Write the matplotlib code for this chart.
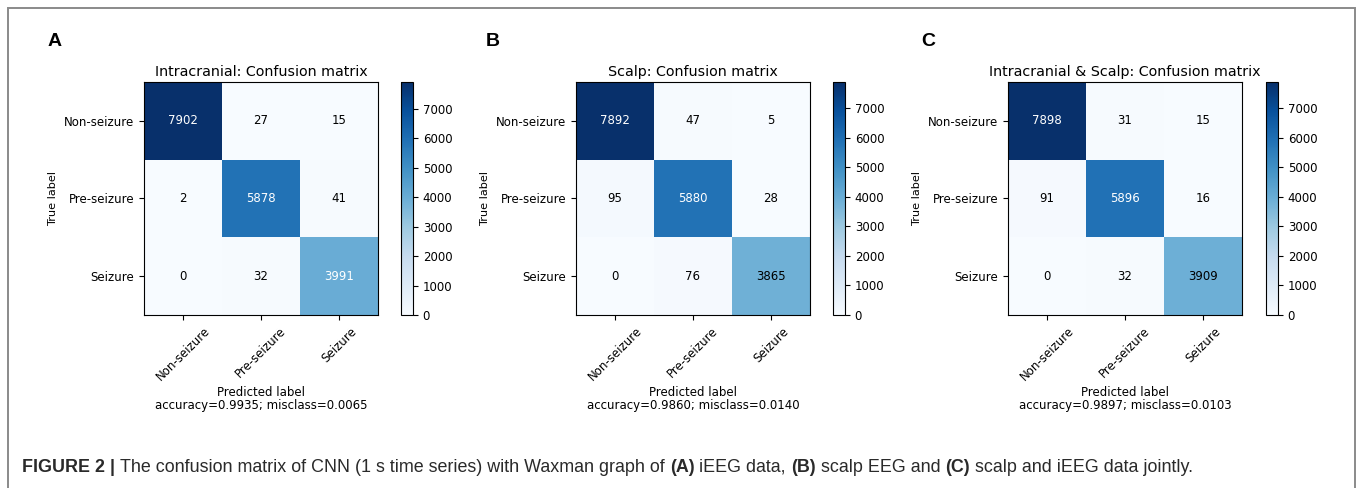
import numpy as np
import matplotlib
matplotlib.use("Agg")
import matplotlib.pyplot as plt
from matplotlib.patches import Rectangle

# --- data ---
classes = ["Non-seizure", "Pre-seizure", "Seizure"]
titles = ["Intracranial: Confusion matrix",
          "Scalp: Confusion matrix",
          "Intracranial & Scalp: Confusion matrix"]
panel_letters = ["A", "B", "C"]
cm_intracranial = [[7902, 27, 15],
                   [2, 5878, 41],
                   [0, 32, 3991]]
cm_scalp = [[7892, 47, 5],
            [95, 5880, 28],
            [0, 76, 3865]]
cm_joint = [[7898, 31, 15],
            [91, 5896, 16],
            [0, 32, 3909]]
matrices = [cm_intracranial, cm_scalp, cm_joint]
cbar_ticks = [0, 1000, 2000, 3000, 4000, 5000, 6000, 7000]

caption_parts = [("FIGURE 2 | ", "bold"),
                 ("The confusion matrix of CNN (1 s time series) with Waxman graph of ", "normal"),
                 ("(A)", "bold"), (" iEEG data, ", "normal"),
                 ("(B)", "bold"), (" scalp EEG and ", "normal"),
                 ("(C)", "bold"), (" scalp and iEEG data jointly.", "normal")]

W, H = 1358, 488
fig = plt.figure(figsize=(W / 100, H / 100), dpi=100)


def px_rect(x0, y0, x1, y1):
    # pixel box (top-left origin) -> figure fraction rect
    return [x0 / W, 1 - y1 / H, (x1 - x0) / W, (y1 - y0) / H]


ax_x = [144, 576, 1008]
cb_x = [401, 833, 1266]
letter_x = [48, 486, 921]
y_top, y_bot = 82, 315

# outer frame
fig.patches.append(Rectangle((8 / W, -0.05), (1355 - 8) / W, 1 - 8 / H + 0.05,
                             transform=fig.transFigure, fill=False,
                             edgecolor="#8a8a8a", linewidth=1.4))

fs = 8.5
for k in range(3):
    cm = np.array(matrices[k])
    ax = fig.add_axes(px_rect(ax_x[k], y_top, ax_x[k] + 234, y_bot))
    cax = fig.add_axes(px_rect(cb_x[k], y_top, cb_x[k] + 12, y_bot))
    im = ax.imshow(cm, interpolation="nearest", cmap=plt.cm.Blues, vmin=0, vmax=cm.max(),
                   aspect="auto")
    ax.set_title(titles[k], fontsize=10.3, pad=4)
    cb = fig.colorbar(im, cax=cax, ticks=cbar_ticks)
    cb.ax.tick_params(labelsize=fs, length=3.5, width=0.8)
    cb.outline.set_linewidth(0.8)

    ticks = np.arange(len(classes))
    ax.set_xticks(ticks)
    ax.set_xticklabels(classes, rotation=45, fontsize=fs)
    ax.set_yticks(ticks)
    ax.set_yticklabels(classes, fontsize=fs)
    ax.tick_params(length=3.5, width=0.8)
    for s in ax.spines.values():
        s.set_linewidth(0.8)

    thresh = cm.max() / 2
    for i in range(cm.shape[0]):
        for j in range(cm.shape[1]):
            ax.text(j, i, str(cm[i, j]), ha="center", va="center",
                    fontsize=fs, color="white" if cm[i, j] > thresh else "black")

    accuracy = np.trace(cm) / float(np.sum(cm))
    misclass = 1 - accuracy
    ax.set_ylabel("True label", fontsize=8.1)
    ax.set_xlabel("Predicted label\naccuracy={:0.4f}; misclass={:0.4f}".format(accuracy, misclass),
                  fontsize=fs, linespacing=1.0, labelpad=2)

    fig.text(letter_x[k] / W, 1 - 42 / H, panel_letters[k], fontsize=14, fontweight="bold",
             family="Liberation Sans", ha="left", va="center")

# caption, drawn piece by piece so the bold parts line up
fig.canvas.draw()
renderer = fig.canvas.get_renderer()
x = 22
for txt, weight in caption_parts:
    t = fig.text(x / W, 1 - 467 / H, txt, fontsize=12.9, fontweight=weight,
                 family="Liberation Sans", ha="left", va="center", color="#2a2a2a")
    bb = t.get_window_extent(renderer=renderer)
    x += bb.width

fig.savefig("out.png", dpi=100)
